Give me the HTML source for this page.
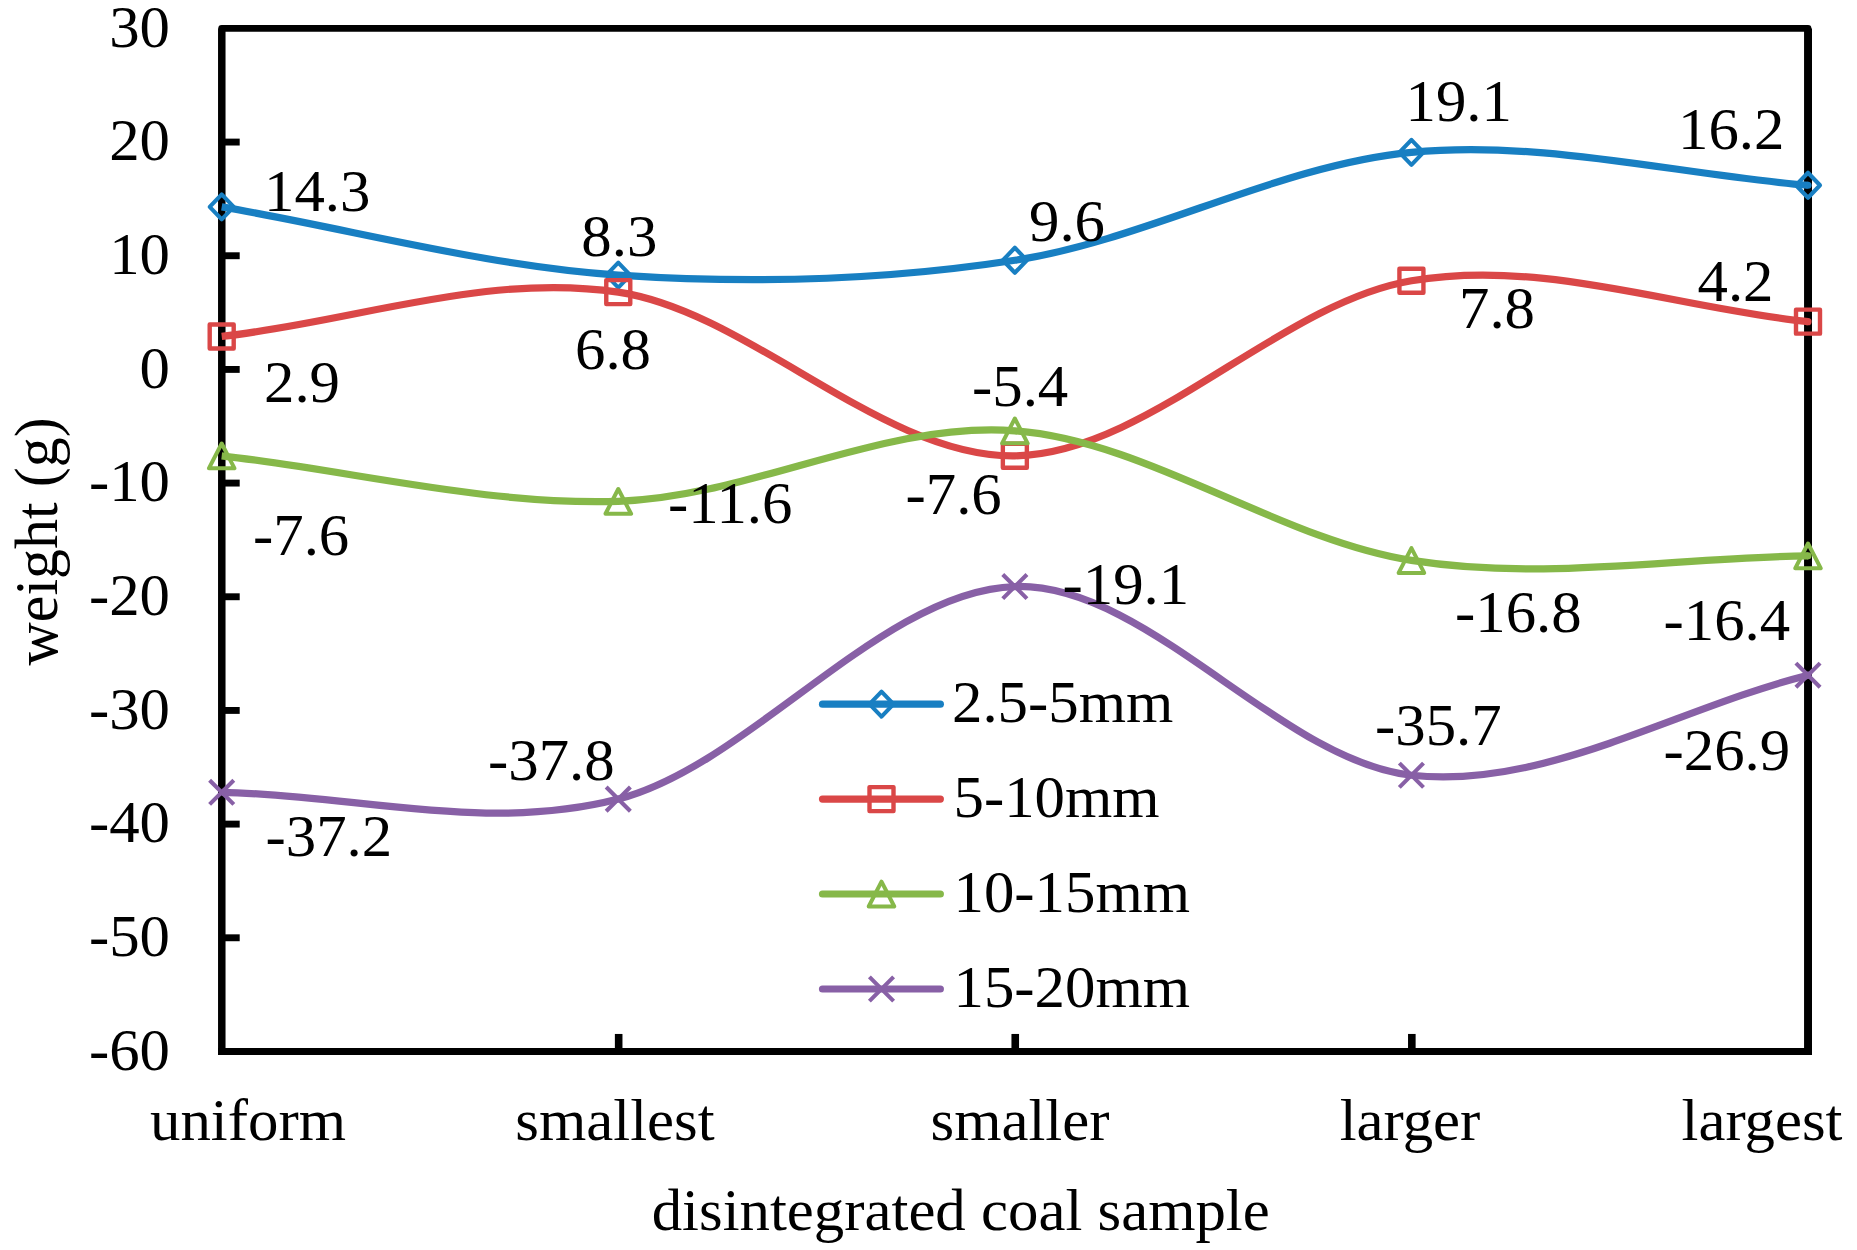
<!DOCTYPE html>
<html lang="en"><head><meta charset="utf-8"><title>disintegrated coal sample weight chart</title>
<style>html,body{margin:0;padding:0;background:#fff;}body{width:1857px;height:1250px;overflow:hidden;}svg{display:block;}text{font-family:"Liberation Serif","DejaVu Serif",serif;fill:#000;}</style></head><body>
<svg width="1857" height="1250" viewBox="0 0 1857 1250">
<rect x="0" y="0" width="1857" height="1250" fill="#fff"/>
<g stroke="#000" stroke-width="6.9" fill="none"><path d="M221.70 142.07 H239.70"/><path d="M221.70 255.74 H239.70"/><path d="M221.70 369.42 H239.70"/><path d="M221.70 483.09 H239.70"/><path d="M221.70 596.76 H239.70"/><path d="M221.70 710.43 H239.70"/><path d="M221.70 824.11 H239.70"/><path d="M221.70 937.78 H239.70"/><path d="M618.67 1051.45 V1033.95" stroke-width="7.6"/><path d="M1015.25 1051.45 V1033.95" stroke-width="7.6"/><path d="M1411.83 1051.45 V1033.95" stroke-width="7.6"/></g>
<path d="M221.70 1051.45 V28.40 H1808.00 V1051.45" fill="none" stroke="#000" stroke-width="6.9" stroke-linejoin="round" stroke-linecap="butt"/>
<path d="M218.05 1051.45 H1812.00" fill="none" stroke="#000" stroke-width="6.9" stroke-linecap="butt"/>
<path d="M1808.05 28.40 V1054.90" fill="none" stroke="#000" stroke-width="7.9" stroke-linecap="butt"/>
<path d="M221.8 28.40 V1054.90" fill="none" stroke="#000" stroke-width="7.3" stroke-linecap="butt"/>
<path d="M221.70 194.37 L233.70 206.87 L221.70 219.37 L209.70 206.87 Z" fill="none" stroke="#187fc2" stroke-width="4.1" stroke-linejoin="round"/>
<path d="M618.27 262.57 L630.27 275.07 L618.27 287.57 L606.27 275.07 Z" fill="none" stroke="#187fc2" stroke-width="4.1" stroke-linejoin="round"/>
<path d="M1014.85 247.79 L1026.85 260.29 L1014.85 272.79 L1002.85 260.29 Z" fill="none" stroke="#187fc2" stroke-width="4.1" stroke-linejoin="round"/>
<path d="M1411.42 139.80 L1423.42 152.30 L1411.42 164.80 L1399.42 152.30 Z" fill="none" stroke="#187fc2" stroke-width="4.1" stroke-linejoin="round"/>
<path d="M1808.00 172.77 L1820.00 185.27 L1808.00 197.77 L1796.00 185.27 Z" fill="none" stroke="#187fc2" stroke-width="4.1" stroke-linejoin="round"/>
<path d="M221.70 206.87 C353.89 229.60 486.08 266.16 618.27 275.07 C750.47 283.97 882.66 280.75 1014.85 260.29 C1147.04 239.83 1279.23 164.81 1411.42 152.30 C1543.62 139.80 1675.81 174.28 1808.00 185.27" fill="none" stroke="#187fc2" stroke-width="7.2" stroke-linecap="butt" stroke-linejoin="round"/>
<circle cx="1808.00" cy="185.27" r="3.60" fill="#187fc2"/>
<rect x="209.70" y="324.45" width="24.00" height="24.00" fill="none" stroke="#da4747" stroke-width="4.4" stroke-linejoin="round"/>
<rect x="606.27" y="280.12" width="24.00" height="24.00" fill="none" stroke="#da4747" stroke-width="4.4" stroke-linejoin="round"/>
<rect x="1002.85" y="443.81" width="24.00" height="24.00" fill="none" stroke="#da4747" stroke-width="4.4" stroke-linejoin="round"/>
<rect x="1399.42" y="268.75" width="24.00" height="24.00" fill="none" stroke="#da4747" stroke-width="4.4" stroke-linejoin="round"/>
<rect x="1796.00" y="309.67" width="24.00" height="24.00" fill="none" stroke="#da4747" stroke-width="4.4" stroke-linejoin="round"/>
<path d="M221.70 336.45 C353.89 321.67 486.08 272.23 618.27 292.12 C750.47 312.01 882.66 457.70 1014.85 455.81 C1147.04 453.91 1279.23 303.11 1411.42 280.75 C1543.62 258.40 1675.81 308.03 1808.00 321.67" fill="none" stroke="#da4747" stroke-width="7.2" stroke-linecap="butt" stroke-linejoin="round"/>
<circle cx="1808.00" cy="321.67" r="3.60" fill="#da4747"/>
<path d="M221.70 443.51 L234.50 468.31 L208.90 468.31 Z" fill="none" stroke="#86b849" stroke-width="4.0" stroke-linejoin="round"/>
<path d="M618.27 488.98 L631.07 513.78 L605.48 513.78 Z" fill="none" stroke="#86b849" stroke-width="4.0" stroke-linejoin="round"/>
<path d="M1014.85 418.50 L1027.65 443.30 L1002.05 443.30 Z" fill="none" stroke="#86b849" stroke-width="4.0" stroke-linejoin="round"/>
<path d="M1411.42 548.09 L1424.22 572.89 L1398.62 572.89 Z" fill="none" stroke="#86b849" stroke-width="4.0" stroke-linejoin="round"/>
<path d="M1808.00 543.54 L1820.80 568.34 L1795.20 568.34 Z" fill="none" stroke="#86b849" stroke-width="4.0" stroke-linejoin="round"/>
<path d="M221.70 455.81 C353.89 470.96 486.08 505.44 618.27 501.28 C750.47 497.11 882.66 420.95 1014.85 430.80 C1147.04 440.65 1279.23 539.55 1411.42 560.39 C1543.62 581.23 1675.81 557.35 1808.00 555.84" fill="none" stroke="#86b849" stroke-width="7.2" stroke-linecap="butt" stroke-linejoin="round"/>
<circle cx="1808.00" cy="555.84" r="3.60" fill="#86b849"/>
<path d="M209.60 780.18 L233.80 804.38 M209.60 804.38 L233.80 780.18" fill="none" stroke="#8860a6" stroke-width="4.1" stroke-linecap="butt"/>
<path d="M606.17 787.00 L630.38 811.20 M606.17 811.20 L630.38 787.00" fill="none" stroke="#8860a6" stroke-width="4.1" stroke-linecap="butt"/>
<path d="M1002.75 574.43 L1026.95 598.63 M1002.75 598.63 L1026.95 574.43" fill="none" stroke="#8860a6" stroke-width="4.1" stroke-linecap="butt"/>
<path d="M1399.33 763.13 L1423.52 787.33 M1399.33 787.33 L1423.52 763.13" fill="none" stroke="#8860a6" stroke-width="4.1" stroke-linecap="butt"/>
<path d="M1795.90 663.09 L1820.10 687.29 M1795.90 687.29 L1820.10 663.09" fill="none" stroke="#8860a6" stroke-width="4.1" stroke-linecap="butt"/>
<path d="M221.70 792.28 C353.89 794.55 486.08 833.39 618.27 799.10 C750.47 764.81 882.66 590.51 1014.85 586.53 C1147.04 582.55 1279.23 760.45 1411.42 775.23 C1543.62 790.00 1675.81 708.54 1808.00 675.19" fill="none" stroke="#8860a6" stroke-width="7.2" stroke-linecap="butt" stroke-linejoin="round"/>
<circle cx="1808.00" cy="675.19" r="3.60" fill="#8860a6"/>
<g font-size="60.0"><text transform="translate(170.0 46.7) scale(1.0137 1)" text-anchor="end">30</text><text transform="translate(170.0 160.4) scale(1.0137 1)" text-anchor="end">20</text><text transform="translate(170.0 274.0) scale(1.0137 1)" text-anchor="end">10</text><text transform="translate(170.0 387.7) scale(1.0137 1)" text-anchor="end">0</text><text transform="translate(170.0 501.4) scale(1.0137 1)" text-anchor="end">-10</text><text transform="translate(170.0 615.1) scale(1.0137 1)" text-anchor="end">-20</text><text transform="translate(170.0 728.7) scale(1.0137 1)" text-anchor="end">-30</text><text transform="translate(170.0 842.4) scale(1.0137 1)" text-anchor="end">-40</text><text transform="translate(170.0 956.1) scale(1.0137 1)" text-anchor="end">-50</text><text transform="translate(170.0 1069.8) scale(1.0137 1)" text-anchor="end">-60</text></g>
<g font-size="60.0"><text transform="translate(248.0 1140.0) scale(1.0137 1)" text-anchor="middle">uniform</text><text transform="translate(615.0 1140.0) scale(1.0137 1)" text-anchor="middle">smallest</text><text transform="translate(1020.0 1140.0) scale(1.0137 1)" text-anchor="middle">smaller</text><text transform="translate(1410.0 1140.0) scale(1.0137 1)" text-anchor="middle">larger</text><text transform="translate(1762.0 1140.0) scale(1.0137 1)" text-anchor="middle">largest</text></g>
<g font-size="60.0"><text transform="translate(960.7 1230.0) scale(1.0137 1)" text-anchor="middle">disintegrated coal sample</text></g>
<text transform="translate(57.4 541.4) scale(1.0137 1) rotate(-90)" font-size="60.0" text-anchor="middle">weight (g)</text>
<g font-size="60.0"><text transform="translate(264.0 210.8) scale(1.0137 1)">14.3</text><text transform="translate(581.3 256.3) scale(1.0137 1)">8.3</text><text transform="translate(1029.0 240.5) scale(1.0137 1)">9.6</text><text transform="translate(1405.5 121.0) scale(1.0137 1)">19.1</text><text transform="translate(1678.0 148.7) scale(1.0137 1)">16.2</text><text transform="translate(264.0 401.7) scale(1.0137 1)">2.9</text><text transform="translate(575.0 369.0) scale(1.0137 1)">6.8</text><text transform="translate(905.5 513.5) scale(1.0137 1)">-7.6</text><text transform="translate(1459.0 328.0) scale(1.0137 1)">7.8</text><text transform="translate(1697.5 301.0) scale(1.0137 1)">4.2</text><text transform="translate(253.0 555.0) scale(1.0137 1)">-7.6</text><text transform="translate(668.0 522.8) scale(1.0137 1)">-11.6</text><text transform="translate(972.0 405.5) scale(1.0137 1)">-5.4</text><text transform="translate(1455.0 631.5) scale(1.0137 1)">-16.8</text><text transform="translate(1663.5 639.7) scale(1.0137 1)">-16.4</text><text transform="translate(265.5 856.0) scale(1.0137 1)">-37.2</text><text transform="translate(488.0 779.6) scale(1.0137 1)">-37.8</text><text transform="translate(1062.5 603.8) scale(1.0137 1)">-19.1</text><text transform="translate(1375.0 745.3) scale(1.0137 1)">-35.7</text><text transform="translate(1663.5 770.3) scale(1.0137 1)">-26.9</text></g>
<path d="M881.50 691.70 L893.50 704.20 L881.50 716.70 L869.50 704.20 Z" fill="none" stroke="#187fc2" stroke-width="4.1" stroke-linejoin="round"/>
<path d="M822.50 704.20 H940.35" fill="none" stroke="#187fc2" stroke-width="7.2" stroke-linecap="round"/>
<g font-size="60.0"><text transform="translate(952.0 721.8) scale(1.0137 1)">2.5-5mm</text></g>
<rect x="869.50" y="787.10" width="24.00" height="24.00" fill="none" stroke="#da4747" stroke-width="4.4" stroke-linejoin="round"/>
<path d="M822.50 799.10 H940.35" fill="none" stroke="#da4747" stroke-width="7.2" stroke-linecap="round"/>
<g font-size="60.0"><text transform="translate(953.5 816.7) scale(1.0137 1)">5-10mm</text></g>
<path d="M881.50 881.70 L894.30 906.50 L868.70 906.50 Z" fill="none" stroke="#86b849" stroke-width="4.0" stroke-linejoin="round"/>
<path d="M822.50 894.00 H940.35" fill="none" stroke="#86b849" stroke-width="7.2" stroke-linecap="round"/>
<g font-size="60.0"><text transform="translate(953.5 911.6) scale(1.0137 1)">10-15mm</text></g>
<path d="M869.40 976.90 L893.60 1001.10 M869.40 1001.10 L893.60 976.90" fill="none" stroke="#8860a6" stroke-width="4.1" stroke-linecap="butt"/>
<path d="M822.50 989.00 H940.35" fill="none" stroke="#8860a6" stroke-width="7.2" stroke-linecap="round"/>
<g font-size="60.0"><text transform="translate(953.5 1006.6) scale(1.0137 1)">15-20mm</text></g>
</svg></body></html>
